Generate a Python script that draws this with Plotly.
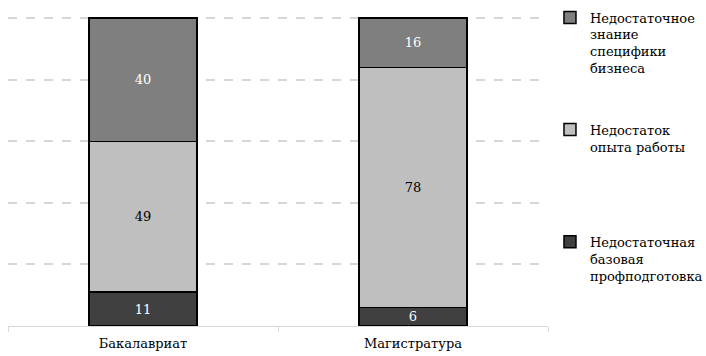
import plotly.graph_objects as go

categories = ["Бакалавриат", "Магистратура"]
series_names = [
    "Недостаточная<br>базовая<br>профподготовка",
    "Недостаток<br>опыта работы",
    "Недостаточное<br>знание<br>специфики<br>бизнеса",
]
basic_training = [11, 6]
work_experience = [49, 78]
business_knowledge = [40, 16]

series_values = [basic_training, work_experience, business_knowledge]
fill_colors = ["#404040", "#bfbfbf", "#7f7f7f"]
text_colors = ["white", "black", "white"]
legend_ids = ["legend3", "legend2", "legend"]

FONT = "DejaVu Serif"

fig = go.Figure()
for name, vals, fc, tc, lg in zip(series_names, series_values, fill_colors, text_colors, legend_ids):
    fig.add_trace(go.Bar(
        x=categories,
        y=vals,
        name=name,
        text=[str(v) for v in vals],
        textposition="inside",
        insidetextanchor="middle",
        textangle=0,
        constraintext="none",
        textfont=dict(family=FONT, size=13, color=tc),
        marker=dict(color=fc, line=dict(color="black", width=1.5)),
        width=0.4,
        legend=lg,
        showlegend=True,
    ))

# legends sit in container coordinates to the right of the plot area
legend_common = dict(
    font=dict(family=FONT, size=13, color="black"),
    bgcolor="rgba(0,0,0,0)",
    valign="top",
    xref="container",
    yref="container",
    xanchor="left",
    yanchor="top",
    x=0.779,
)

fig.update_layout(
    width=706,
    height=356,
    margin=dict(l=8, r=158, t=12, b=30, autoexpand=False),
    paper_bgcolor="white",
    plot_bgcolor="white",
    barmode="stack",
    font=dict(family=FONT, size=13, color="black"),
    legend=dict(y=0.993, **legend_common),
    legend2=dict(y=0.678, **legend_common),
    legend3=dict(y=0.363, **legend_common),
    xaxis=dict(
        showline=True,
        linecolor="#d9d9d9",
        linewidth=1,
        ticks="outside",
        tickson="boundaries",
        ticklen=5,
        tickcolor="#d9d9d9",
        ticklabelstandoff=5,
        tickfont=dict(family=FONT, size=13, color="black"),
        showgrid=False,
    ),
    yaxis=dict(
        range=[0, 102],
        tickmode="linear",
        tick0=0,
        dtick=20,
        showticklabels=False,
        showgrid=True,
        gridcolor="#d6d6d6",
        griddash="dash",
        gridwidth=1.5,
        zeroline=False,
    ),
)

fig.write_html("out.html")
